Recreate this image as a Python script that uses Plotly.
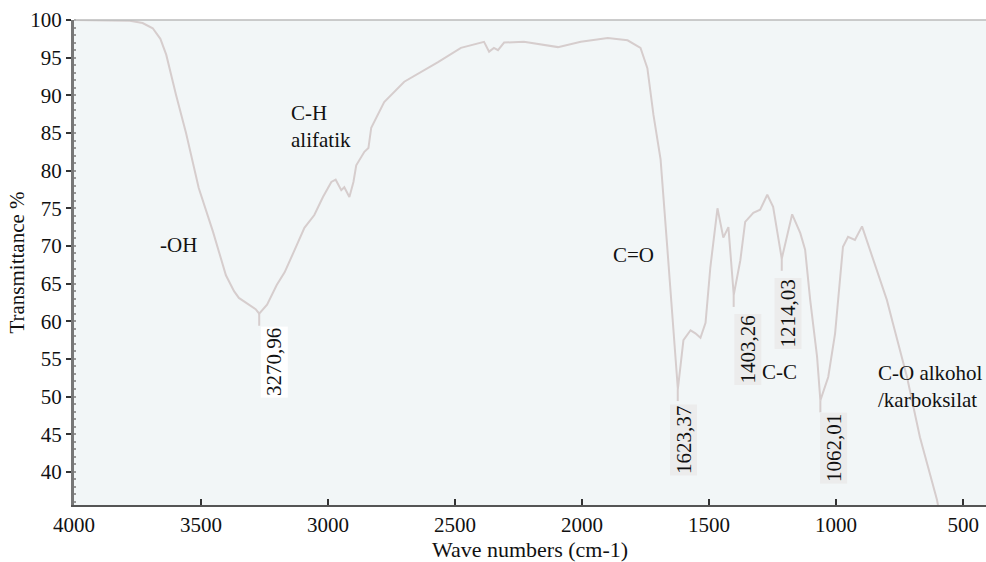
import plotly.graph_objects as go

wavenumber = [4000, 3850, 3780, 3730, 3690, 3660, 3637, 3598, 3559, 3509, 3453, 3402, 3370, 3351,
              3312, 3285, 3271, 3240, 3202, 3171, 3131, 3093, 3054, 3020, 2987, 2970, 2948, 2936,
              2916, 2900, 2889, 2857, 2841, 2830, 2779, 2700, 2567, 2477, 2386, 2366, 2347, 2331,
              2307, 2229, 2095, 2005, 1899, 1821, 1770, 1743, 1719, 1691, 1664, 1644, 1623, 1601,
              1573, 1554, 1534, 1514, 1495, 1467, 1444, 1424, 1403, 1377, 1358, 1326, 1299, 1271,
              1248, 1214, 1173, 1141, 1122, 1102, 1075, 1062, 1031, 1004, 985, 973, 953, 926, 898,
              867, 800, 777, 721, 670, 603, 590]
transmittance = [100, 100, 99.9, 99.6, 98.9, 97.5, 95.4, 90, 85, 77.7, 71.9, 66.1, 64, 63.1,
                 62.2, 61.6, 61.0, 62.2, 64.8, 66.5, 69.5, 72.4, 74.1, 76.5, 78.5, 78.8, 77.4, 77.8,
                 76.5, 78.5, 80.7, 82.5, 83, 85.7, 89.1, 91.8, 94.4, 96.3, 97.1, 95.8, 96.3, 96,
                 97, 97.1, 96.4, 97.1, 97.6, 97.3, 96.3, 93.6, 87.4, 81.5, 69.5, 60.6, 51, 57.5,
                 58.8, 58.4, 57.8, 59.8, 67.2, 75, 71.1, 72.5, 63.5, 68.1, 73.2, 74.4, 74.8, 76.8,
                 75.2, 68.3, 74.2, 71.7, 69.5, 62.8, 55.3, 49.5, 52.6, 58.4, 65.9, 69.9, 71.2, 70.8, 72.6,
                 69.5, 62.8, 59.8, 52.6, 44.6, 36.3, 34]

peak_labels = ["3270,96", "1623,37", "1403,26", "1214,03", "1062,01"]
peak_x = [3270.96, 1623.37, 1403.26, 1214.03, 1062.01]
peak_y = [61.0, 51.0, 63.5, 68.3, 49.5]
label_y = [54.6, 44.2, 56.2, 61.0, 43.2]
label_shift = [15, 6, 14, 6, 13]
label_bg = ["#ffffff", "#ececec", "#ececec", "#ececec", "#ececec"]

group_labels = ["-OH", "C-H<br>alifatik", "C=O", "C-C", "C-O alkohol<br>/karboksilat"]
group_x = [3587, 3154, 1796, 1222, 842]
group_y = [70.1, 85.8, 68.8, 53.3, 51.4]
group_anchor = ["center", "left", "center", "center", "left"]

x_ticks = [4000, 3500, 3000, 2500, 2000, 1500, 1000, 500]
y_ticks = [40, 45, 50, 55, 60, 65, 70, 75, 80, 85, 90, 95, 100]

FONT = "Liberation Serif"
LINE = "#d6cdcd"

fig = go.Figure()
fig.add_trace(go.Scatter(x=wavenumber, y=transmittance, mode="lines",
                         line=dict(color=LINE, width=2), hoverinfo="skip", showlegend=False))

for px, py in zip(peak_x, peak_y):
    fig.add_shape(type="line", x0=px, x1=px, y0=py, y1=py - 1.6, xref="x", yref="y",
                  line=dict(color=LINE, width=2))

for lab, px, ly, sh, bg in zip(peak_labels, peak_x, label_y, label_shift, label_bg):
    fig.add_annotation(x=px, y=ly, text=lab, showarrow=False, textangle=-90, xshift=sh,
                       font=dict(family=FONT, size=21, color="#111"), bgcolor=bg, borderpad=1)

for lab, gx, gy, anc in zip(group_labels, group_x, group_y, group_anchor):
    fig.add_annotation(x=gx, y=gy, text=lab, showarrow=False, xanchor=anc, align="left",
                       font=dict(family=FONT, size=21, color="#111"))

fig.update_layout(
    width=986, height=562,
    margin=dict(l=74, r=0, t=20, b=57),
    paper_bgcolor="white", plot_bgcolor="#f2f6f7",
    font=dict(family=FONT, size=21, color="#111"),
    showlegend=False,
)
fig.update_xaxes(range=[4000, 410], tickvals=x_ticks, ticks="inside", ticklen=6, tickwidth=2,
                 tickcolor="#333", showgrid=False, zeroline=False, showline=True, linecolor="#555",
                 linewidth=2, mirror=False,
                 title=dict(text="Wave numbers (cm-1)", font=dict(family=FONT, size=22), standoff=0),
                 tickfont=dict(family=FONT, size=21))
fig.update_yaxes(range=[35.6, 100], tickvals=y_ticks, ticks="outside", ticklen=5, tickwidth=1.5,
                 tickcolor="#333", showgrid=False, zeroline=False, showline=True, linecolor="#777",
                 linewidth=3,
                 minor=dict(ticks="inside", dtick=1, ticklen=2, tickcolor="#999", showgrid=False),
                 title=dict(text="Transmittance %", font=dict(family=FONT, size=21), standoff=0),
                 tickfont=dict(family=FONT, size=21))
fig.add_shape(type="line", xref="paper", yref="paper", x0=0, x1=1, y0=1, y1=1,
              line=dict(color="#bbbbbb", width=1.5))

fig.write_html("out.html", config={"displayModeBar": False},
               post_script="document.body.style.margin='0';document.body.style.overflow='hidden';")
